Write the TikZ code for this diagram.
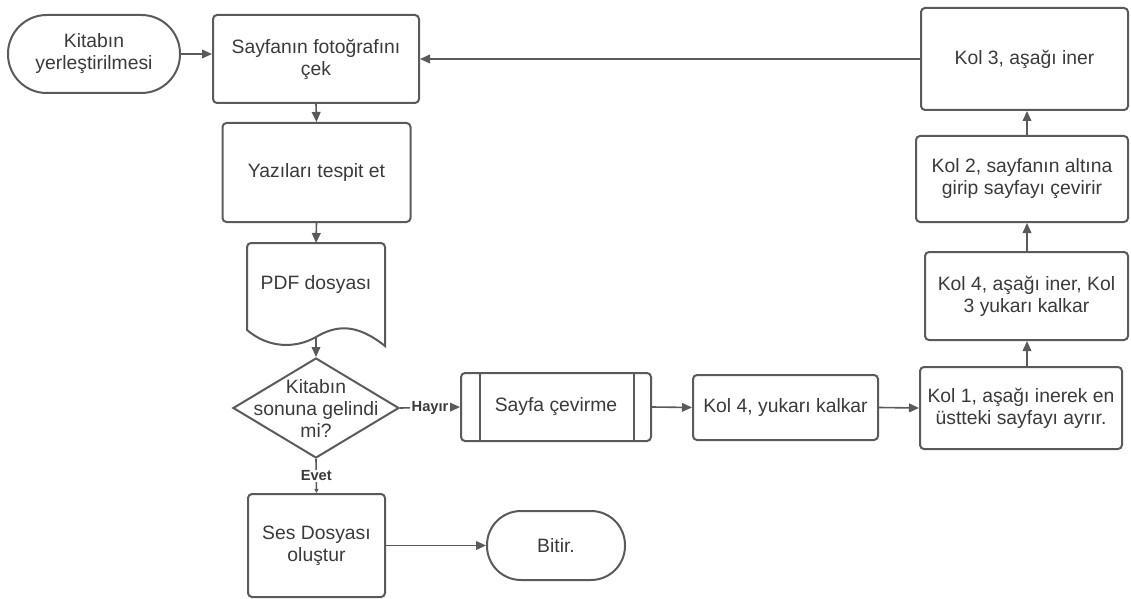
\documentclass[tikz,border=0pt]{standalone}
\usepackage{fontspec}
\setmainfont{Liberation Sans}
\usetikzlibrary{arrows.meta,calc,shapes.geometric}
\definecolor{lc}{HTML}{5A5A5A}
\definecolor{tc}{HTML}{3A3A3A}
\begin{document}
\begin{tikzpicture}[x=0.75pt,y=-0.75pt,
  every node/.style={font=\fontsize{14.5}{16.5}\selectfont, text=tc, align=center},
  box/.style 2 args={draw=lc, line width=1.5pt, rounded corners=3pt, minimum width=#1*0.75pt, minimum height=#2*0.75pt, inner sep=0pt},
  term/.style={draw=lc, line width=1.5pt, inner sep=0pt},
  arr/.style={draw=lc, line width=1.2pt, -{Triangle[length=7.5pt,width=6.5pt]}},
  lbl/.style={font=\bfseries\fontsize{11}{12}\selectfont, fill=white, inner sep=1pt}
]
\useasboundingbox (0,0) rectangle (1131,599);

% left column
\node[term, rounded corners=29pt, minimum width=129pt, minimum height=58.5pt] (start) at (94,54) {Kitabın\\yerleştirilmesi};
\node[box={206}{88}] (photo) at (316,59) {Sayfanın fotoğrafını\\çek};
\node[box={188}{99}] (detect) at (316.5,172.5) {Yazıları tespit et};

\draw[lc, line width=1.5pt] (247,330) {[rounded corners=3pt] -- (247,243) -- (385,243)} -- (385,346)
  .. controls (355,322) and (335,326) .. (316,337)
  .. controls (295,349) and (268,348) .. (247,330) -- cycle;
\node (pdf) at (316,285) {PDF dosyası};
\coordinate (pdftop) at (316,243);
\coordinate (pdfbot) at (316,337);

\node[diamond, draw=lc, line width=1.5pt, minimum width=124.5pt, minimum height=75pt, inner sep=0pt, aspect=1.66] (dec) at (316,408) {};
\node (dect) at (316,408) {Kitabın\\sonuna gelindi\\mi?};

\node[box={137}{103}] (ses) at (316.5,545.5) {Ses Dosyası\\oluştur};
\node[term, rounded corners=25.5pt, minimum width=103.5pt, minimum height=51.75pt] (bitir) at (556,545.5) {Bitir.};

% bottom row
\node[box={190}{68}] (turn) at (556,407) {Sayfa çevirme};
\draw[lc, line width=1.5pt] ($(turn.north west)+(20,0)$) -- ($(turn.south west)+(20,0)$);
\draw[lc, line width=1.5pt] ($(turn.north east)+(-18,0)$) -- ($(turn.south east)+(-18,0)$);
\node[box={185}{65}] (k4up) at (785.5,407.5) {Kol 4, yukarı kalkar};
\node[box={202}{82}] (k1) at (1021,408) {Kol 1, aşağı inerek en\\üstteki sayfayı ayrır.};

% right column
\node[box={203}{88}] (k4down) at (1026.5,296) {Kol 4, aşağı iner, Kol\\3 yukarı kalkar};
\node[box={212}{86}] (k2) at (1022,179) {Kol 2, sayfanın altına\\girip sayfayı çevirir};
\node[box={207}{102}] (k3) at (1024.5,59) {Kol 3, aşağı iner};
\coordinate (colx) at (1027,0);

% connectors
\draw[arr] (start.east) -- (start.east -| photo.west);
\draw[arr] (photo.south) -- (detect.north);
\draw[arr] (detect.south) -- (pdftop);
\draw[arr] (pdfbot) -- (dec.north);
\draw[arr] (dec.east) -- node[lbl]{Hayır} (turn.west);
\draw[draw=lc, line width=1.2pt, -{Triangle[length=3pt,width=3pt]}] (dec.south) -- node[lbl]{Evet} (ses.north);
\draw[arr] (ses.east) -- (bitir.west);
\draw[arr] (turn.east) -- (k4up.west);
\draw[arr] (k4up.east) -- (k1.west);
\draw[arr] (k1.north -| colx) -- (k4down.south -| colx);
\draw[arr] (k4down.north -| colx) -- (k2.south -| colx);
\draw[arr] (k2.north -| colx) -- (k3.south -| colx);
\draw[arr] (k3.west) -- (photo.east);
\end{tikzpicture}
\end{document}
